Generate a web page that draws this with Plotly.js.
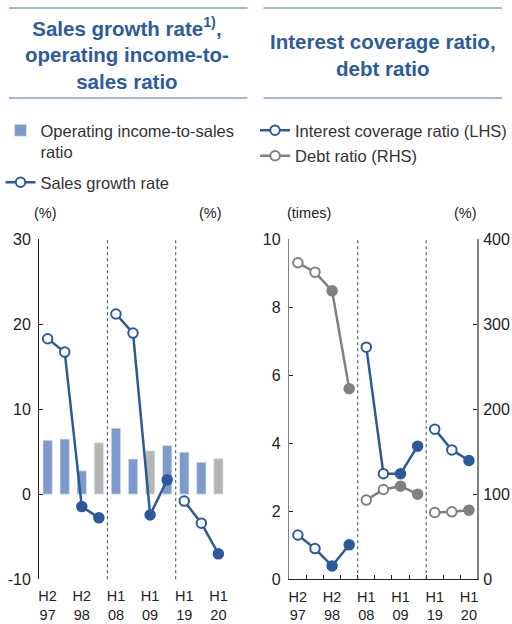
<!DOCTYPE html>
<html>
<head>
<meta charset="utf-8">
<script src="https://cdn.plot.ly/plotly-3.0.1.min.js"></script>
<style>html,body{margin:0;padding:0;background:#fff;}#chart{width:512px;height:624px;}</style>
</head>
<body>
<div id="chart"></div>
<script>
// ---- data ----
const slots = [0,1,2,3,4,5,6,7,8,9,10];
const groups = [0,0,0,0,1,1,1,1,2,2,2];
const tickSlots = [0,2,4,6,8,10];
const tickLabels = ["H2<br>97","H2<br>98","H1<br>08","H1<br>09","H1<br>19","H1<br>20"];
const leftTicks = [-10,0,10,20,30];
const leftTickText = ["-10","0","10","20","30"];
const icTicks = [0,2,4,6,8,10];
const drTicks = [0,100,200,300,400];
const opIncomeRatio = [6.35,6.47,2.74,6.04,7.76,4.12,5.09,5.72,4.94,3.76,4.19];
const barIsGray = [false,false,false,true,false,false,true,false,false,false,true];
const salesGrowth = [18.27,16.7,-1.46,-2.79,21.18,18.94,-2.44,1.68,-0.82,-3.41,-7.02];
const interestCoverage = [1.30,0.90,0.39,1.01,6.82,3.10,3.10,3.91,4.41,3.80,3.49];
const debtRatio = [372,361,339,224,93,105.5,109.4,100,78.4,79.2,81.2];
const filled = [false,false,true,true,false,false,true,true,false,false,true];

const BLUE = '#2b5a9c', BAR_BLUE = '#7c9bcb', BAR_GRAY = '#b5b5b5', GRAY = '#808080';
const FONT = "'Liberation Sans Narrow', 'Liberation Sans', Arial, sans-serif";
const TFONT = "'Liberation Sans', Arial, sans-serif";

function splitLine(vals, color, xa, ya, name, legend) {
  const out = [];
  [0,1,2].forEach(g => {
    const idx = slots.filter(i => groups[i] === g);
    out.push({
      type:'scatter', mode:'lines+markers', x: idx, y: idx.map(i => vals[i]),
      xaxis: xa, yaxis: ya, name: name, legend: legend, legendgroup: name,
      showlegend: g === 0, cliponaxis:false,
      line:{color: color, width: 2.5},
      marker:{symbol:'circle', size: 9.5, color: idx.map(i => filled[i] ? color : '#ffffff'),
              line:{color: color, width: 2}},
      hoverinfo:'skip'
    });
  });
  return out;
}

const traces = [];
traces.push({
  type:'bar', x: slots, y: opIncomeRatio, xaxis:'x', yaxis:'y', width: 0.55,
  name:'Operating income-to-sales<br>ratio', legend:'legend',
  marker:{color: barIsGray.map(g => g ? BAR_GRAY : BAR_BLUE), line:{color:'#e8eef8', width:0.6}},
  hoverinfo:'skip'
});
traces.push(...splitLine(salesGrowth, BLUE, 'x', 'y', 'Sales growth rate', 'legend3'));
traces.push(...splitLine(interestCoverage, BLUE, 'x2', 'y3', 'Interest coverage ratio (LHS)', 'legend2'));
traces.push(...splitLine(debtRatio, GRAY, 'x2', 'y4', 'Debt ratio (RHS)', 'legend4'));

const ydom = [0.0718, 0.617];
const xdomL = [0.0768, 0.4459];
const xdomR = [0.5684, 0.9381];
const zeroPos = ydom[0] + (0 - (-10)) / 40 * (ydom[1] - ydom[0]);
const boundaries = [0.5,1.5,2.5,3.5,4.5,5.5,6.5,7.5,8.5,9.5];
const tickFont = {family: FONT, size: 16, color: '#222'};
const xTickFont = {family: FONT, size: 14.5, color: '#222'};

const baseY = {showgrid:false, zeroline:false, showline:true, ticks:'inside', ticklen:4, tickwidth:1,
               tickfont: tickFont, fixedrange:true, tickmode:'array', ticklabelstandoff:4};
const legFont = {family:TFONT, size:16.5, color:'#333'};
function leg(x, y) {
  return {x:x, y:y, xanchor:'left', yanchor:'top', bgcolor:'rgba(0,0,0,0)', font: legFont,
          traceorder:'normal', valign:'top', itemwidth:30, borderwidth:0};
}

const layout = {
  width:512, height:624, margin:{l:0,r:0,t:0,b:0},
  paper_bgcolor:'#fff', plot_bgcolor:'rgba(0,0,0,0)',
  font:{family: FONT, size:14, color:'#222'},
  xaxis:{domain: xdomL, anchor:'y', range:[-0.5,10.5], tickmode:'array', tickvals: tickSlots, ticktext: tickLabels,
         ticks:'', showline:false, showgrid:false, zeroline:false, tickfont: xTickFont, fixedrange:true, ticklabelstandoff:6},
  xaxis3:{domain: xdomL, overlaying:'x', anchor:'free', position: zeroPos, range:[-0.5,10.5],
          showline:true, linecolor:'#222', linewidth:1, ticks:'inside', ticklen:4, tickcolor:'#222',
          tickmode:'array', tickvals: boundaries, showticklabels:false, showgrid:false, zeroline:false},
  yaxis:Object.assign({}, baseY, {domain: ydom, anchor:'x', range:[-10,30], tickvals: leftTicks, ticktext: leftTickText, linecolor:'#222', tickcolor:'#222'}),
  yaxis2:Object.assign({}, baseY, {domain: ydom, anchor:'x', overlaying:'y', side:'right', range:[-10,30], tickvals: leftTicks, ticktext: leftTickText, linecolor:'#222', tickcolor:'#222'}),
  xaxis2:{domain: xdomR, anchor:'y3', range:[-0.5,10.5], tickmode:'array', tickvals: tickSlots, ticktext: tickLabels,
          ticks:'', showline:true, linecolor:'#222', showgrid:false, zeroline:false, tickfont: xTickFont, fixedrange:true, ticklabelstandoff:4,
          minor:{tickmode:'array', tickvals: boundaries, ticks:'inside', ticklen:4, tickcolor:'#222', showgrid:false}},
  yaxis3:Object.assign({}, baseY, {domain: ydom, anchor:'x2', range:[0,10], tickvals: icTicks, linecolor:GRAY, tickcolor:'#222', linewidth:1.5}),
  yaxis4:Object.assign({}, baseY, {domain: ydom, anchor:'x2', overlaying:'y3', side:'right', range:[0,400], tickvals: drTicks,
          linecolor:GRAY, tickcolor:'#222', linewidth:1.5, ticklabelstandoff:1, tickfont:{family:TFONT, size:16, color:'#222'}}),
  showlegend:true,
  legend: leg(0.001, 1-113/624),
  legend3: leg(0.001, 1-165/624),
  legend2: leg(0.5012, 1-113/624),
  legend4: leg(0.5012, 1-138.5/624),
  shapes:[
    {type:'line', xref:'x', yref:'y', x0:3.5, x1:3.5, y0:-10, y1:30, line:{color:'#444', width:1, dash:'dot'}},
    {type:'line', xref:'x', yref:'y', x0:7.5, x1:7.5, y0:-10, y1:30, line:{color:'#444', width:1, dash:'dot'}},
    {type:'line', xref:'x2', yref:'y3', x0:3.5, x1:3.5, y0:0, y1:10, line:{color:'#444', width:1, dash:'dot'}},
    {type:'line', xref:'x2', yref:'y3', x0:7.5, x1:7.5, y0:0, y1:10, line:{color:'#444', width:1, dash:'dot'}},
    {type:'line', xref:'paper', yref:'paper', x0:9/512, x1:249/512, y0:1-8/624, y1:1-8/624, line:{color:'#4a6fae', width:1}},
    {type:'line', xref:'paper', yref:'paper', x0:9/512, x1:249/512, y0:1-98/624, y1:1-98/624, line:{color:'#4a6fae', width:1}},
    {type:'line', xref:'paper', yref:'paper', x0:265/512, x1:505/512, y0:1-8/624, y1:1-8/624, line:{color:'#4a6fae', width:1}},
    {type:'line', xref:'paper', yref:'paper', x0:265/512, x1:505/512, y0:1-98/624, y1:1-98/624, line:{color:'#4a6fae', width:1}}
  ],
  annotations:[
    {xref:'paper', yref:'paper', x:128/512, y:1-53/624, xanchor:'center', yanchor:'middle', showarrow:false,
     text:'Sales growth rate<sup>1)</sup>,<br>operating income-to-<br>sales ratio',
     font:{family:TFONT, size:20.5, color:'#2d5b9b', weight:'bold'}},
    {xref:'paper', yref:'paper', x:385/512, y:1-54.5/624, xanchor:'center', yanchor:'middle', showarrow:false,
     text:'Interest coverage ratio,<br>debt ratio',
     font:{family:TFONT, size:20.5, color:'#2d5b9b', weight:'bold'}},
    {xref:'paper', yref:'paper', x:46/512, y:1-213/624, xanchor:'center', yanchor:'middle', showarrow:false, text:'(%)', font:{family:FONT, size:14.5, color:'#222'}},
    {xref:'paper', yref:'paper', x:212/512, y:1-213/624, xanchor:'center', yanchor:'middle', showarrow:false, text:'(%)', font:{family:FONT, size:14.5, color:'#222'}},
    {xref:'paper', yref:'paper', x:311/512, y:1-213/624, xanchor:'center', yanchor:'middle', showarrow:false, text:'(times)', font:{family:FONT, size:14.5, color:'#222'}},
    {xref:'paper', yref:'paper', x:468/512, y:1-213/624, xanchor:'center', yanchor:'middle', showarrow:false, text:'(%)', font:{family:FONT, size:14.5, color:'#222'}}
  ]
};

Plotly.newPlot('chart', traces, layout, {displayModeBar:false, staticPlot:true});
</script>
</body>
</html>
